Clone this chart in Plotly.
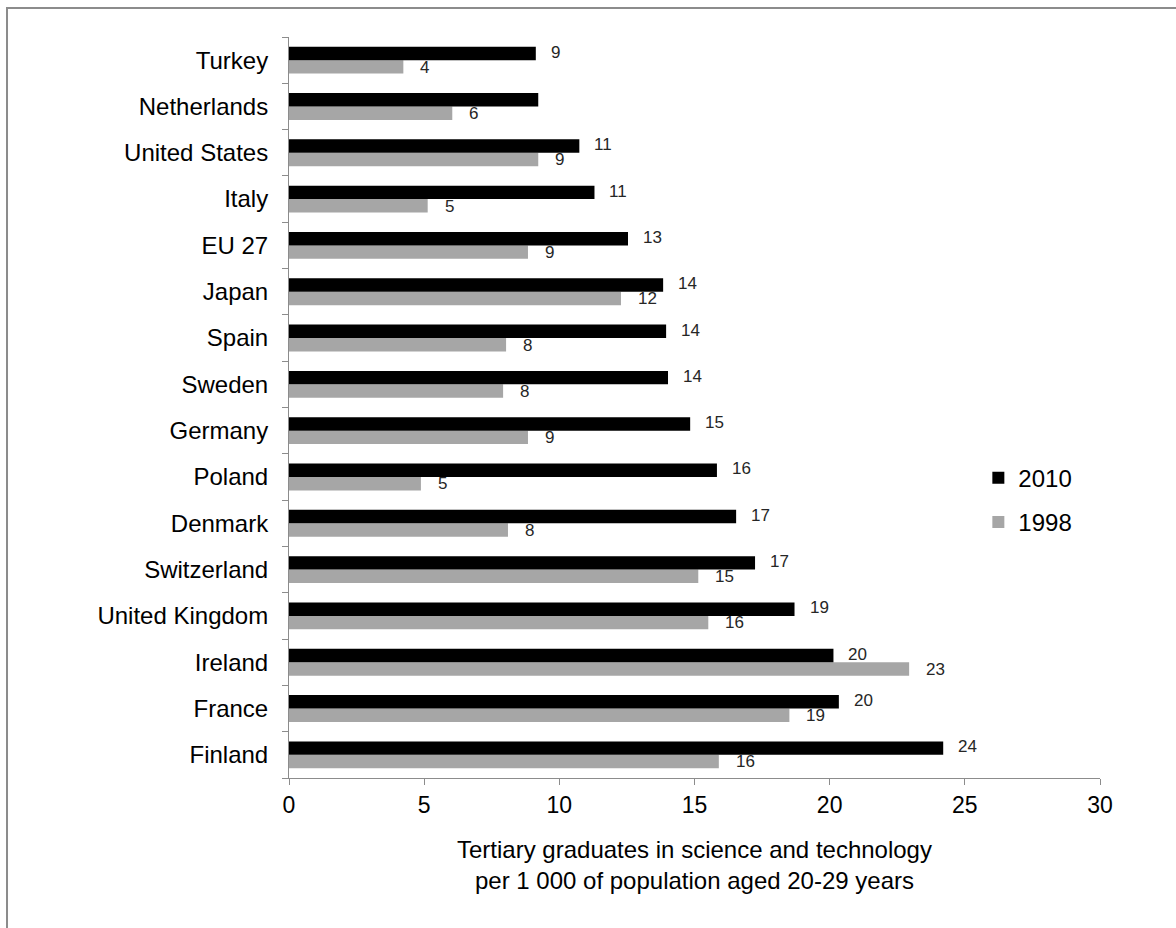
import plotly.graph_objects as go

# Categories listed bottom-to-top as they appear on the axis
countries = ["Finland", "France", "Ireland", "United Kingdom", "Switzerland",
             "Denmark", "Poland", "Germany", "Sweden", "Spain", "Japan",
             "EU 27", "Italy", "United States", "Netherlands", "Turkey"]

# Graduates per 1 000 population aged 20-29
grad_2010 = [24.2, 20.34, 20.14, 18.7, 17.24, 16.54, 15.83, 14.84, 14.02, 13.95, 13.84,
             12.54, 11.3, 10.74, 9.22, 9.13]
grad_1998 = [15.9, 18.51, 22.94, 15.51, 15.14, 8.1, 4.88, 8.84, 7.92, 8.03, 12.28,
             8.84, 5.13, 9.22, 6.04, 4.23]

# Countries whose 2010 bar carries no value label
unlabelled_2010 = ["Netherlands"]

x_ticks = [0, 5, 10, 15, 20, 25, 30]

FONT = "Liberation Sans, Arial, sans-serif"
BLACK = "#000000"
GREY = "#a6a6a6"
AXIS_GREY = "#8c8c8c"

fig = go.Figure()
fig.add_trace(go.Bar(
    y=countries, x=grad_1998, orientation="h", name="1998",
    marker=dict(color=GREY, line=dict(width=0)),
    legendgroup="b", legendrank=2,
))
fig.add_trace(go.Bar(
    y=countries, x=grad_2010, orientation="h", name="2010",
    marker=dict(color=BLACK, line=dict(width=0)),
    legendgroup="a", legendrank=1,
))

# Value labels placed just beyond the end of each bar
annotations = []
label_font = dict(family=FONT, size=17, color="#262626")
for c, v in zip(countries, grad_2010):
    if c in unlabelled_2010:
        continue
    annotations.append(dict(x=v, y=c, xref="x", yref="y", text=f"{round(v)}",
                            showarrow=False, xanchor="left", yanchor="middle",
                            xshift=13, yshift=8, font=label_font))
for c, v in zip(countries, grad_1998):
    annotations.append(dict(x=v, y=c, xref="x", yref="y", text=f"{round(v)}",
                            showarrow=False, xanchor="left", yanchor="middle",
                            xshift=15, yshift=-7, font=label_font))

fig.update_layout(
    width=1176, height=928,
    margin=dict(l=289, r=76, t=37, b=150),
    paper_bgcolor="white", plot_bgcolor="white",
    barmode="group", bargap=0.42, bargroupgap=0,
    font=dict(family=FONT, size=22, color="#000000"),
    showlegend=True,
    legend=dict(x=0.85, y=0.375, xanchor="left", yanchor="middle",
                traceorder="grouped", tracegroupgap=10,
                font=dict(family=FONT, size=24, color="#000000"),
                bgcolor="rgba(0,0,0,0)"),
    annotations=annotations,
    shapes=[dict(type="rect", xref="paper", yref="paper",
                 x0=-0.3477, x1=1.12, y0=-0.23, y1=1.039,
                 line=dict(color=AXIS_GREY, width=2), fillcolor="rgba(0,0,0,0)",
                 layer="below")],
)

fig.update_xaxes(
    range=[0, 30], tickvals=x_ticks, ticks="outside", ticklen=6,
    tickcolor=AXIS_GREY, showline=True, linecolor=AXIS_GREY, linewidth=1,
    showgrid=False, zeroline=False,
    tickfont=dict(family=FONT, size=23, color="#000000"),
    title=dict(text="Tertiary graduates in science and technology<br>"
                    "per 1 000 of population aged 20-29 years",
               font=dict(family=FONT, size=24, color="#000000"), standoff=24),
)
fig.update_yaxes(
    type="category", categoryorder="array", categoryarray=countries,
    ticks="outside", ticklen=6, tickcolor=AXIS_GREY, tickson="boundaries",
    showline=True, linecolor=AXIS_GREY, linewidth=1, showgrid=False,
    ticklabelstandoff=15,
    tickfont=dict(family=FONT, size=24, color="#000000"),
)

fig.write_html("out.html")
